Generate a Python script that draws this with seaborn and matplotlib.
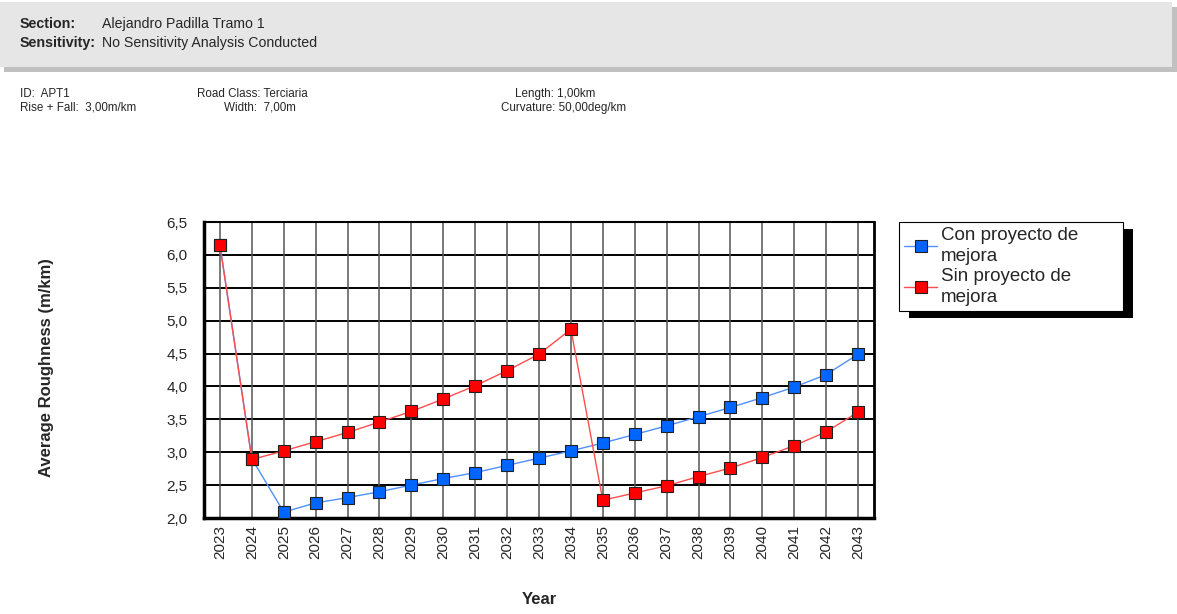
import matplotlib
matplotlib.use("Agg")
import matplotlib.pyplot as plt
from matplotlib.patches import Rectangle
from matplotlib.transforms import IdentityTransform
import pandas as pd
import seaborn as sns

years = list(range(2023, 2044))
con_proyecto = [6.15, 2.90, 2.09, 2.23, 2.31, 2.40, 2.50, 2.60, 2.69, 2.80, 2.91,
                3.02, 3.14, 3.27, 3.40, 3.54, 3.68, 3.83, 3.99, 4.18, 4.49]
sin_proyecto = [6.15, 2.89, 3.02, 3.16, 3.30, 3.46, 3.62, 3.81, 4.01, 4.24, 4.49,
                4.87, 2.27, 2.38, 2.49, 2.63, 2.76, 2.92, 3.10, 3.31, 3.61]
y_ticks = [2.0, 2.5, 3.0, 3.5, 4.0, 4.5, 5.0, 5.5, 6.0, 6.5]

df = pd.DataFrame({"Year": years, "Con": con_proyecto, "Sin": sin_proyecto})

sns.set_style("white")
plt.rcParams['font.family'] = ['Liberation Sans', 'DejaVu Sans']

W, H = 1177, 614
fig = plt.figure(figsize=(W / 100, H / 100), dpi=100)


def fx(px):
    return px / W


def fy(py):
    return 1 - py / H


# header band with shadow
fig.add_artist(Rectangle((fx(4), fy(72)), fx(1173), 65 / H, transform=fig.transFigure,
                         facecolor='#c0c0c0', edgecolor='none', zorder=-2))
fig.add_artist(Rectangle((fx(0), fy(67)), fx(1172), 65 / H, transform=fig.transFigure,
                         facecolor='#e6e6e6', edgecolor='none', zorder=-1))
fig.text(fx(20), fy(24), "Section:", fontsize=10.3, fontweight='bold', va='center')
fig.text(fx(102), fy(24), "Alejandro Padilla Tramo 1", fontsize=10.2, va='center')
fig.text(fx(20), fy(43), "Sensitivity:", fontsize=10.3, fontweight='bold', va='center')
fig.text(fx(102), fy(43), "No Sensitivity Analysis Conducted", fontsize=10.2, va='center')

# section info
info = [(20, 94, "ID:  APT1"), (20, 108, "Rise + Fall:  3,00m/km"),
        (197, 94, "Road Class: Terciaria"), (224, 108, "Width:  7,00m"),
        (515, 94, "Length: 1,00km"), (501, 108, "Curvature: 50,00deg/km")]
for x, y, s in info:
    fig.text(fx(x), fy(y), s, fontsize=8.4, va='center')

ax = fig.add_axes([fx(204), fy(518), fx(874) - fx(204), (518 - 222) / H])

sns.lineplot(data=df, x="Year", y="Con", ax=ax, color='#5090ff', lw=1,
             marker='s', markersize=9, markerfacecolor='#0066ff',
             markeredgecolor='#202020', markeredgewidth=0.8,
             label="Con proyecto de\nmejora", zorder=3)
sns.lineplot(data=df, x="Year", y="Sin", ax=ax, color='#ff4d4d', lw=1,
             marker='s', markersize=9, markerfacecolor='#ff0000',
             markeredgecolor='#202020', markeredgewidth=0.8,
             label="Sin proyecto de\nmejora", zorder=4)

ax.set_xlim(years[0] - 0.5, years[-1] + 0.5)
ax.set_ylim(y_ticks[0], y_ticks[-1])
ax.set_xticks(years)
ax.set_xticklabels([str(y) for y in years], rotation=90, fontsize=11)
ax.set_yticks(y_ticks)
ax.set_yticklabels([f"{v:.1f}".replace('.', ',') for v in y_ticks], fontsize=11)
ax.tick_params(axis='y', length=0, pad=12)
ax.tick_params(axis='x', length=0, pad=5)
for v in y_ticks:
    ax.axhline(v, color='black', lw=1.4, zorder=1)
for yr in years:
    ax.axvline(yr, color='#555555', lw=1.1, zorder=1)

for side, lw in [('left', 2.5), ('bottom', 2.5), ('right', 2), ('top', 1.5)]:
    ax.spines[side].set_visible(True)
    ax.spines[side].set_color('black')
    ax.spines[side].set_linewidth(lw)

ax.set_xlabel("")
ax.set_ylabel("")
fig.text(fx(47), fy(368), "Average Roughness (m/km)", rotation=90, fontsize=12,
         fontweight='bold', ha='center', va='center')
fig.text(fx(539), fy(600), "Year", fontsize=12, fontweight='bold', ha='center', va='center')

leg = ax.legend(loc='upper left', bbox_to_anchor=(fx(899), fy(314), fx(1123) - fx(899), 92 / H),
                bbox_transform=fig.transFigure, mode='expand', borderaxespad=0,
                fontsize=13.5, frameon=True, fancybox=False, edgecolor='black',
                framealpha=1, handlelength=1.8, handletextpad=0.2, borderpad=0.25,
                labelspacing=0.2)
leg.get_frame().set_linewidth(0.8)
for t in leg.get_texts():
    t.set_linespacing(1.3)

fig.canvas.draw()
bb = leg.get_window_extent()
fig.add_artist(Rectangle((bb.x0 + 10, bb.y0 - 7), bb.width, bb.height,
                         transform=IdentityTransform(), facecolor='black',
                         edgecolor='none', zorder=-1))

fig.savefig("out.png", dpi=100)
